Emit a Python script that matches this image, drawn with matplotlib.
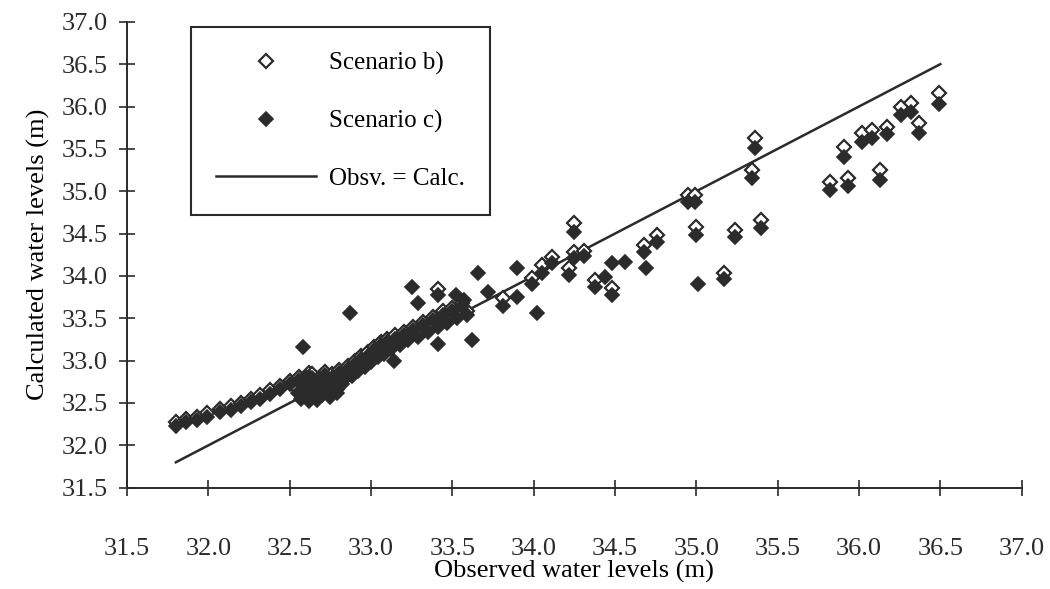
import numpy as np
import matplotlib
matplotlib.use('Agg')
import matplotlib.pyplot as plt

plt.rcParams['font.family'] = ['Liberation Serif', 'DejaVu Serif']

# observed levels and calculated levels for scenario b) and c), in metres
# lower string of points
obs_low = [31.80, 31.86, 31.93, 31.99, 32.07, 32.14, 32.20, 32.26, 32.32, 32.38, 32.44, 32.50, 32.56, 32.62]
calc_b_low = [32.27, 32.31, 32.34, 32.38, 32.43, 32.46, 32.50, 32.55, 32.59, 32.65, 32.70, 32.76, 32.81, 32.85]
calc_c_low = [32.23, 32.27, 32.30, 32.34, 32.39, 32.42, 32.46, 32.51, 32.55, 32.61, 32.66, 32.72, 32.77, 32.81]

# dense cluster around 32.5 - 33.6 m
obs_mid = [32.55, 32.57, 32.58, 32.60, 32.60, 32.62, 32.63, 32.64, 32.65, 32.66, 32.67, 32.68, 32.69,
           32.70, 32.71, 32.72, 32.73, 32.74, 32.75, 32.76, 32.77, 32.78, 32.79, 32.80, 32.82, 32.84,
           32.86, 32.88, 32.90, 32.92, 32.94, 32.96, 32.98, 33.00, 33.02, 33.04, 33.06, 33.08, 33.10,
           33.12, 33.15, 33.18, 33.20, 33.23, 33.26, 33.29, 33.32, 33.35, 33.38, 33.41, 33.44, 33.47,
           33.50, 33.53, 33.56, 33.59]
calc_c_mid = [32.62, 32.55, 32.70, 32.60, 32.76, 32.52, 32.66, 32.80, 32.58, 32.71, 32.54, 32.64, 32.78,
              32.59, 32.68, 32.83, 32.62, 32.73, 32.57, 32.80, 32.67, 32.74, 32.62, 32.85, 32.72, 32.80,
              32.90, 32.82, 32.96, 32.88, 33.02, 32.92, 33.06, 32.98, 33.12, 33.04, 33.18, 33.08, 33.22,
              33.14, 33.26, 33.18, 33.30, 33.24, 33.36, 33.28, 33.42, 33.34, 33.48, 33.40, 33.54, 33.44,
              33.58, 33.50, 33.64, 33.54]
calc_b_mid = [32.66, 32.59, 32.74, 32.64, 32.80, 32.56, 32.70, 32.84, 32.62, 32.75, 32.58, 32.68, 32.82,
              32.63, 32.72, 32.87, 32.66, 32.77, 32.61, 32.84, 32.71, 32.78, 32.66, 32.89, 32.76, 32.84,
              32.94, 32.86, 33.00, 32.92, 33.06, 32.96, 33.10, 33.02, 33.16, 33.08, 33.22, 33.12, 33.26,
              33.18, 33.30, 33.22, 33.34, 33.28, 33.40, 33.32, 33.46, 33.38, 33.52, 33.44, 33.58, 33.48,
              33.62, 33.54, 33.68, 33.58]

# scattered points above 33.4 m
obs_high = [33.41, 33.81, 33.99, 34.05, 34.11, 34.22, 34.25, 34.25, 34.31, 34.38, 34.48, 34.68, 34.76,
            34.95, 34.99, 35.00, 35.17, 35.24, 35.34, 35.36, 35.40, 35.82, 35.91, 35.93, 36.02, 36.08,
            36.13, 36.17, 36.26, 36.32, 36.37, 36.49]
calc_b_high = [33.85, 33.74, 33.97, 34.13, 34.22, 34.09, 34.62, 34.28, 34.30, 33.95, 33.86, 34.36, 34.48,
               34.96, 34.96, 34.58, 34.04, 34.54, 35.25, 35.63, 34.66, 35.11, 35.52, 35.16, 35.69, 35.72,
               35.25, 35.76, 36.00, 36.04, 35.81, 36.16]
calc_c_high = [33.78, 33.65, 33.90, 34.04, 34.15, 34.01, 34.52, 34.21, 34.23, 33.87, 33.77, 34.28, 34.40,
               34.87, 34.87, 34.48, 33.96, 34.46, 35.16, 35.51, 34.57, 35.01, 35.40, 35.06, 35.58, 35.63,
               35.13, 35.67, 35.90, 35.94, 35.69, 36.03]

# scenario c) points standing on their own
obs_c_only = [32.58, 32.87, 33.14, 33.25, 33.29, 33.41, 33.52, 33.57, 33.62, 33.66, 33.72, 33.90, 33.90,
              34.02, 34.44, 34.48, 34.56, 34.69, 35.01]
calc_c_only = [33.16, 33.56, 33.00, 33.87, 33.68, 33.20, 33.77, 33.71, 33.24, 34.03, 33.81, 34.09, 33.75,
               33.56, 33.99, 34.15, 34.16, 34.09, 33.91]

line_range = [31.8, 36.5]

obs_b = obs_low + obs_mid + obs_high
calc_b = calc_b_low + calc_b_mid + calc_b_high
obs_c = obs_low + obs_mid + obs_high + obs_c_only
calc_c = calc_c_low + calc_c_mid + calc_c_high + calc_c_only

fig = plt.figure(figsize=(10.5, 5.89), dpi=100)
ax = fig.add_axes([0.121, 0.172, 0.852, 0.791])

dark = '#2b2b2b'
ax.plot(line_range, line_range, '-', color=dark, lw=1.8, label='Obsv. = Calc.', zorder=2)
ax.plot(obs_b, calc_b, 'D', ms=7.5, mfc='white', mec=dark, mew=1.6, ls='none',
        label='Scenario b)', zorder=3)
ax.plot(obs_c, calc_c, 'D', ms=7.5, mfc=dark, mec=dark, mew=1.2, ls='none',
        label='Scenario c)', zorder=4)

ax.set_xlim(31.5, 37.0)
ax.set_ylim(31.5, 37.0)
ticks = np.arange(31.5, 37.01, 0.5)
ax.set_xticks(ticks)
ax.set_yticks(ticks)
ax.set_xticklabels([f'{t:.1f}' for t in ticks])
ax.set_yticklabels([f'{t:.1f}' for t in ticks])

for s in ['top', 'right']:
    ax.spines[s].set_visible(False)
for s in ['left', 'bottom']:
    ax.spines[s].set_linewidth(1.4)
    ax.spines[s].set_color(dark)

ax.tick_params(axis='both', direction='inout', length=12, width=1.2, colors=dark, labelsize=19)
ax.tick_params(axis='x', pad=30)
ax.tick_params(axis='y', pad=8)

ax.set_xlabel('Observed water levels (m)', fontsize=19, labelpad=0)
ax.set_ylabel('Calculated water levels (m)', fontsize=19, labelpad=8)

handles, labels = ax.get_legend_handles_labels()
order = [1, 2, 0]
leg = ax.legend([handles[i] for i in order], [labels[i] for i in order],
                loc='upper left', bbox_to_anchor=(0.072, 0.988), fontsize=18,
                frameon=True, fancybox=False, edgecolor=dark, framealpha=1,
                handlelength=4.0, handletextpad=0.5, labelspacing=1.38,
                borderpad=1.0, borderaxespad=0)
leg.get_frame().set_linewidth(1.5)

fig.savefig('out.png', dpi=100)
